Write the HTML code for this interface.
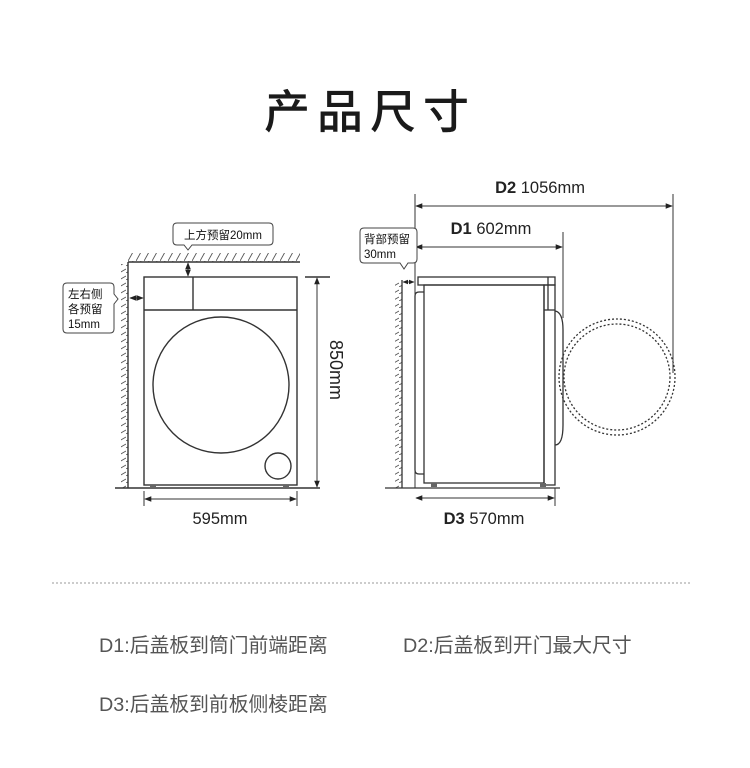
<!DOCTYPE html>
<html><head><meta charset="utf-8"><style>
html,body{margin:0;padding:0;background:#fff;}
svg{display:block;}
text{font-family:"Liberation Sans","Noto Sans CJK SC",sans-serif;}
</style></head><body>
<svg width="750" height="768" viewBox="0 0 750 768" xmlns="http://www.w3.org/2000/svg">
<defs>
<marker id="a" viewBox="0 0 10 10" refX="9" refY="5" markerWidth="7" markerHeight="7" orient="auto-start-reverse"><path d="M0,1 L10,5 L0,9 z" fill="#222"/></marker>
<pattern id="hv" width="7" height="7" patternUnits="userSpaceOnUse"><path d="M0,7 L7,3" stroke="#555" stroke-width="0.9"/></pattern>
<pattern id="hh" width="8" height="9" patternUnits="userSpaceOnUse"><path d="M0,9 L5,0" stroke="#555" stroke-width="0.9"/></pattern>
</defs>
<text x="370" y="128" font-size="46" text-anchor="middle" fill="#1a1a1a" letter-spacing="7" font-weight="500">产品尺寸</text>

<!-- LEFT -->
<g stroke="#333" fill="none" stroke-width="1.4">
<rect x="121" y="264" width="7" height="224" fill="url(#hv)" stroke="none"/>
<rect x="128" y="253" width="172" height="9" fill="url(#hh)" stroke="none"/>
<line x1="128" y1="262" x2="128" y2="488"/>
<line x1="128" y1="262" x2="300" y2="262"/>
<rect x="144" y="277" width="153" height="208"/>
<line x1="144" y1="310" x2="297" y2="310"/>
<line x1="193" y1="277" x2="193" y2="310"/>
<circle cx="221" cy="385" r="68"/>
<circle cx="278" cy="466" r="13"/>
<line x1="115" y1="488" x2="320" y2="488"/>
<line x1="305" y1="277" x2="330" y2="277"/>
<line x1="317" y1="278" x2="317" y2="487" marker-start="url(#a)" marker-end="url(#a)" stroke-width="1"/>
<line x1="144" y1="491" x2="144" y2="506" stroke-width="1"/>
<line x1="297" y1="491" x2="297" y2="506" stroke-width="1"/>
<line x1="145" y1="499" x2="296" y2="499" marker-start="url(#a)" marker-end="url(#a)" stroke-width="1"/>
<line x1="188" y1="263" x2="188" y2="276" marker-start="url(#a)" marker-end="url(#a)" stroke-width="1"/>
<line x1="130" y1="298" x2="143" y2="298" marker-start="url(#a)" marker-end="url(#a)" stroke-width="1"/>
</g>
<rect x="150" y="485" width="6" height="4" fill="#666"/><rect x="283" y="485" width="6" height="4" fill="#666"/>
<path d="M177,223 H269 Q273,223 273,227 V241 Q273,245 269,245 H192 L188,250 L184,245 H177 Q173,245 173,241 V227 Q173,223 177,223 Z" fill="#fff" stroke="#444" stroke-width="1"/>
<text x="223" y="239" font-size="11.5" text-anchor="middle" fill="#111">上方预留20mm</text>
<path d="M67,283 H110 Q114,283 114,287 V294 L118,299 L114,304 V329 Q114,333 110,333 H67 Q63,333 63,329 V287 Q63,283 67,283 Z" fill="#fff" stroke="#444" stroke-width="1"/>
<text x="68" y="298" font-size="11.5" fill="#111">左右侧</text>
<text x="68" y="313" font-size="11.5" fill="#111">各预留</text>
<text x="68" y="328" font-size="11.5" fill="#111">15mm</text>
<text x="220" y="524" font-size="16.5" text-anchor="middle" fill="#222">595mm</text>
<text transform="translate(330,370) rotate(90)" font-size="18" text-anchor="middle" fill="#222">850mm</text>

<!-- RIGHT -->
<g stroke="#333" fill="none" stroke-width="1.3">
<rect x="395" y="282" width="7" height="206" fill="url(#hv)" stroke="none"/>
<line x1="402" y1="280" x2="402" y2="488"/>
<line x1="385" y1="488" x2="560" y2="488"/>
<line x1="415" y1="194" x2="415" y2="488" stroke-width="1"/>
<line x1="673" y1="194" x2="673" y2="373" stroke-width="1"/>
<line x1="563" y1="232" x2="563" y2="318" stroke-width="1"/>
<line x1="555" y1="488" x2="555" y2="506" stroke-width="1"/>
<line x1="416" y1="206" x2="672" y2="206" marker-start="url(#a)" marker-end="url(#a)" stroke-width="1"/>
<line x1="416" y1="247" x2="562" y2="247" marker-start="url(#a)" marker-end="url(#a)" stroke-width="1"/>
<line x1="416" y1="498" x2="554" y2="498" marker-start="url(#a)" marker-end="url(#a)" stroke-width="1"/>
<line x1="403" y1="282" x2="414" y2="282" marker-start="url(#a)" marker-end="url(#a)" stroke-width="0.8"/>
<rect x="418" y="277" width="137" height="8"/>
<rect x="424" y="285" width="120" height="198"/>
<rect x="544" y="285" width="11" height="200"/>
<line x1="548" y1="277" x2="548" y2="310"/>
<line x1="544" y1="310" x2="555" y2="310"/>
<path d="M424,292 H419 Q415,292 415,296 V470 Q415,474 419,474 H424"/>
<path d="M555,311 Q563,312 563,330 V425 Q563,445 555,445" />
<circle cx="617" cy="377" r="58" stroke-dasharray="2,2" stroke-width="1.3"/>
<circle cx="617" cy="377" r="53" stroke-dasharray="2,2" stroke-width="1.3"/>
</g>
<rect x="431" y="483" width="6" height="4" fill="#666"/><rect x="540" y="483" width="6" height="4" fill="#666"/>
<path d="M364,228 H413 Q417,228 417,232 V259 Q417,263 413,263 H408 L404,269 L400,263 H364 Q360,263 360,259 V232 Q360,228 364,228 Z" fill="#fff" stroke="#444" stroke-width="1"/>
<text x="364" y="243" font-size="11.5" fill="#111">背部预留</text>
<text x="364" y="258" font-size="11.5" fill="#111">30mm</text>
<text x="540" y="193" font-size="16.5" text-anchor="middle" fill="#222"><tspan font-weight="bold">D2</tspan>  1056mm</text>
<text x="491" y="234" font-size="16.5" text-anchor="middle" fill="#222"><tspan font-weight="bold">D1</tspan>  602mm</text>
<text x="484" y="524" font-size="16.5" text-anchor="middle" fill="#222"><tspan font-weight="bold">D3</tspan>  570mm</text>

<line x1="52" y1="583" x2="690" y2="583" stroke="#999" stroke-width="1" stroke-dasharray="2,2"/>
<g font-size="19.8" fill="#555">
<text x="99" y="652">D1:后盖板到筒门前端距离</text>
<text x="403" y="652">D2:后盖板到开门最大尺寸</text>
<text x="99" y="711">D3:后盖板到前板侧棱距离</text>
</g>
</svg>
</body></html>
